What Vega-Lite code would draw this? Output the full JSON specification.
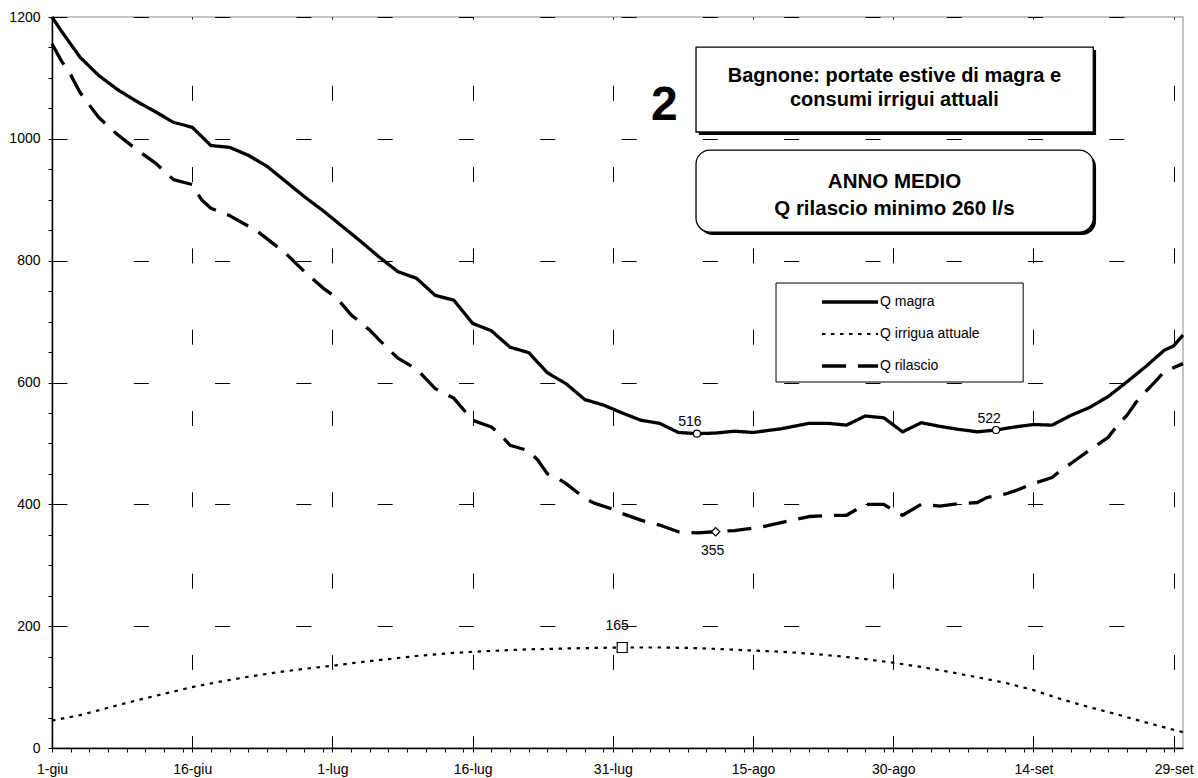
{
  "$schema": "https://vega.github.io/schema/vega-lite/v6.json",
  "width": 1131,
  "height": 731,
  "autosize": {"type": "none"},
  "padding": {"left": 52, "top": 17, "right": 15, "bottom": 30},
  "background": "white",
  "config": {
    "view": {"stroke": "#b0b0b0", "strokeWidth": 1.5},
    "font": "Liberation Sans",
    "axis": {"labelFont": "Liberation Sans", "labelFontSize": 14, "labelColor": "black", "tickColor": "black", "domainColor": "black", "title": null}
  },
  "datasets": {
    "curve": [
      {"serie": "Q magra", "day": 0, "value": 1200}, {"serie": "Q magra", "day": 1, "value": 1177}, {"serie": "Q magra", "day": 3, "value": 1134}, {"serie": "Q magra", "day": 5, "value": 1104}, {"serie": "Q magra", "day": 7, "value": 1081}, {"serie": "Q magra", "day": 9, "value": 1062}, {"serie": "Q magra", "day": 11, "value": 1045}, {"serie": "Q magra", "day": 13, "value": 1027}, {"serie": "Q magra", "day": 15, "value": 1019}, {"serie": "Q magra", "day": 17, "value": 989}, {"serie": "Q magra", "day": 19, "value": 986}, {"serie": "Q magra", "day": 21, "value": 973}, {"serie": "Q magra", "day": 23, "value": 955}, {"serie": "Q magra", "day": 25, "value": 930}, {"serie": "Q magra", "day": 27, "value": 905}, {"serie": "Q magra", "day": 29, "value": 882}, {"serie": "Q magra", "day": 31, "value": 857}, {"serie": "Q magra", "day": 33, "value": 832}, {"serie": "Q magra", "day": 35, "value": 806}, {"serie": "Q magra", "day": 37, "value": 782}, {"serie": "Q magra", "day": 39, "value": 771}, {"serie": "Q magra", "day": 41, "value": 743}, {"serie": "Q magra", "day": 43, "value": 735}, {"serie": "Q magra", "day": 45, "value": 697}, {"serie": "Q magra", "day": 47, "value": 685}, {"serie": "Q magra", "day": 49, "value": 658}, {"serie": "Q magra", "day": 51, "value": 649}, {"serie": "Q magra", "day": 53, "value": 616}, {"serie": "Q magra", "day": 55, "value": 598}, {"serie": "Q magra", "day": 57, "value": 572}, {"serie": "Q magra", "day": 59, "value": 563}, {"serie": "Q magra", "day": 61, "value": 550}, {"serie": "Q magra", "day": 63, "value": 538}, {"serie": "Q magra", "day": 65, "value": 533}, {"serie": "Q magra", "day": 67, "value": 518}, {"serie": "Q magra", "day": 69, "value": 516}, {"serie": "Q magra", "day": 71, "value": 517}, {"serie": "Q magra", "day": 73, "value": 520}, {"serie": "Q magra", "day": 75, "value": 518}, {"serie": "Q magra", "day": 78, "value": 524}, {"serie": "Q magra", "day": 81, "value": 533}, {"serie": "Q magra", "day": 83, "value": 533}, {"serie": "Q magra", "day": 85, "value": 530}, {"serie": "Q magra", "day": 87, "value": 545}, {"serie": "Q magra", "day": 89, "value": 542}, {"serie": "Q magra", "day": 91, "value": 519}, {"serie": "Q magra", "day": 93, "value": 534}, {"serie": "Q magra", "day": 95, "value": 528}, {"serie": "Q magra", "day": 97, "value": 523}, {"serie": "Q magra", "day": 99, "value": 519}, {"serie": "Q magra", "day": 101, "value": 522}, {"serie": "Q magra", "day": 103, "value": 527}, {"serie": "Q magra", "day": 105, "value": 531}, {"serie": "Q magra", "day": 107, "value": 530}, {"serie": "Q magra", "day": 109, "value": 546}, {"serie": "Q magra", "day": 111, "value": 559}, {"serie": "Q magra", "day": 113, "value": 577}, {"serie": "Q magra", "day": 115, "value": 601}, {"serie": "Q magra", "day": 117, "value": 626}, {"serie": "Q magra", "day": 119, "value": 653}, {"serie": "Q magra", "day": 120, "value": 660}, {"serie": "Q magra", "day": 121, "value": 678},
      {"serie": "Q irrigua attuale", "day": 0, "value": 45}, {"serie": "Q irrigua attuale", "day": 3, "value": 54}, {"serie": "Q irrigua attuale", "day": 6, "value": 66}, {"serie": "Q irrigua attuale", "day": 9, "value": 78}, {"serie": "Q irrigua attuale", "day": 12, "value": 89}, {"serie": "Q irrigua attuale", "day": 15, "value": 100}, {"serie": "Q irrigua attuale", "day": 18, "value": 109}, {"serie": "Q irrigua attuale", "day": 21, "value": 117}, {"serie": "Q irrigua attuale", "day": 24, "value": 124}, {"serie": "Q irrigua attuale", "day": 27, "value": 130}, {"serie": "Q irrigua attuale", "day": 30, "value": 135}, {"serie": "Q irrigua attuale", "day": 33, "value": 141}, {"serie": "Q irrigua attuale", "day": 36, "value": 146}, {"serie": "Q irrigua attuale", "day": 39, "value": 151}, {"serie": "Q irrigua attuale", "day": 42, "value": 155}, {"serie": "Q irrigua attuale", "day": 45, "value": 158}, {"serie": "Q irrigua attuale", "day": 48, "value": 160}, {"serie": "Q irrigua attuale", "day": 51, "value": 162}, {"serie": "Q irrigua attuale", "day": 54, "value": 163}, {"serie": "Q irrigua attuale", "day": 57, "value": 164}, {"serie": "Q irrigua attuale", "day": 61, "value": 165}, {"serie": "Q irrigua attuale", "day": 65, "value": 165}, {"serie": "Q irrigua attuale", "day": 69, "value": 164}, {"serie": "Q irrigua attuale", "day": 72, "value": 162}, {"serie": "Q irrigua attuale", "day": 75, "value": 160}, {"serie": "Q irrigua attuale", "day": 78, "value": 158}, {"serie": "Q irrigua attuale", "day": 81, "value": 155}, {"serie": "Q irrigua attuale", "day": 84, "value": 151}, {"serie": "Q irrigua attuale", "day": 87, "value": 146}, {"serie": "Q irrigua attuale", "day": 90, "value": 140}, {"serie": "Q irrigua attuale", "day": 93, "value": 133}, {"serie": "Q irrigua attuale", "day": 96, "value": 125}, {"serie": "Q irrigua attuale", "day": 99, "value": 116}, {"serie": "Q irrigua attuale", "day": 102, "value": 107}, {"serie": "Q irrigua attuale", "day": 105, "value": 95}, {"serie": "Q irrigua attuale", "day": 108, "value": 80}, {"serie": "Q irrigua attuale", "day": 111, "value": 67}, {"serie": "Q irrigua attuale", "day": 114, "value": 55}, {"serie": "Q irrigua attuale", "day": 117, "value": 42}, {"serie": "Q irrigua attuale", "day": 120, "value": 30}, {"serie": "Q irrigua attuale", "day": 121, "value": 26},
      {"serie": "Q rilascio", "day": 0, "value": 1156}, {"serie": "Q rilascio", "day": 1, "value": 1128}, {"serie": "Q rilascio", "day": 2, "value": 1105}, {"serie": "Q rilascio", "day": 3, "value": 1076}, {"serie": "Q rilascio", "day": 5, "value": 1035}, {"serie": "Q rilascio", "day": 7, "value": 1007}, {"serie": "Q rilascio", "day": 9, "value": 983}, {"serie": "Q rilascio", "day": 11, "value": 961}, {"serie": "Q rilascio", "day": 13, "value": 933}, {"serie": "Q rilascio", "day": 15, "value": 925}, {"serie": "Q rilascio", "day": 16, "value": 900}, {"serie": "Q rilascio", "day": 17, "value": 886}, {"serie": "Q rilascio", "day": 19, "value": 874}, {"serie": "Q rilascio", "day": 22, "value": 848}, {"serie": "Q rilascio", "day": 25, "value": 812}, {"serie": "Q rilascio", "day": 27, "value": 782}, {"serie": "Q rilascio", "day": 29, "value": 755}, {"serie": "Q rilascio", "day": 30, "value": 744}, {"serie": "Q rilascio", "day": 31, "value": 729}, {"serie": "Q rilascio", "day": 32, "value": 711}, {"serie": "Q rilascio", "day": 34, "value": 686}, {"serie": "Q rilascio", "day": 35, "value": 670}, {"serie": "Q rilascio", "day": 37, "value": 640}, {"serie": "Q rilascio", "day": 39, "value": 622}, {"serie": "Q rilascio", "day": 41, "value": 590}, {"serie": "Q rilascio", "day": 42, "value": 582}, {"serie": "Q rilascio", "day": 43, "value": 574}, {"serie": "Q rilascio", "day": 45, "value": 538}, {"serie": "Q rilascio", "day": 47, "value": 527}, {"serie": "Q rilascio", "day": 48, "value": 514}, {"serie": "Q rilascio", "day": 49, "value": 497}, {"serie": "Q rilascio", "day": 51, "value": 488}, {"serie": "Q rilascio", "day": 52, "value": 472}, {"serie": "Q rilascio", "day": 53, "value": 450}, {"serie": "Q rilascio", "day": 54, "value": 444}, {"serie": "Q rilascio", "day": 55, "value": 434}, {"serie": "Q rilascio", "day": 57, "value": 410}, {"serie": "Q rilascio", "day": 58, "value": 402}, {"serie": "Q rilascio", "day": 60, "value": 392}, {"serie": "Q rilascio", "day": 61, "value": 385}, {"serie": "Q rilascio", "day": 63, "value": 374}, {"serie": "Q rilascio", "day": 65, "value": 366}, {"serie": "Q rilascio", "day": 67, "value": 355}, {"serie": "Q rilascio", "day": 69, "value": 353}, {"serie": "Q rilascio", "day": 71, "value": 355}, {"serie": "Q rilascio", "day": 73, "value": 357}, {"serie": "Q rilascio", "day": 76, "value": 363}, {"serie": "Q rilascio", "day": 78, "value": 370}, {"serie": "Q rilascio", "day": 81, "value": 380}, {"serie": "Q rilascio", "day": 84, "value": 382}, {"serie": "Q rilascio", "day": 85, "value": 382}, {"serie": "Q rilascio", "day": 87, "value": 400}, {"serie": "Q rilascio", "day": 89, "value": 400}, {"serie": "Q rilascio", "day": 90, "value": 390}, {"serie": "Q rilascio", "day": 91, "value": 382}, {"serie": "Q rilascio", "day": 93, "value": 400}, {"serie": "Q rilascio", "day": 95, "value": 397}, {"serie": "Q rilascio", "day": 97, "value": 401}, {"serie": "Q rilascio", "day": 99, "value": 403}, {"serie": "Q rilascio", "day": 100, "value": 411}, {"serie": "Q rilascio", "day": 102, "value": 417}, {"serie": "Q rilascio", "day": 103, "value": 422}, {"serie": "Q rilascio", "day": 105, "value": 434}, {"serie": "Q rilascio", "day": 107, "value": 444}, {"serie": "Q rilascio", "day": 108, "value": 457}, {"serie": "Q rilascio", "day": 109, "value": 467}, {"serie": "Q rilascio", "day": 111, "value": 489}, {"serie": "Q rilascio", "day": 113, "value": 510}, {"serie": "Q rilascio", "day": 114, "value": 530}, {"serie": "Q rilascio", "day": 115, "value": 546}, {"serie": "Q rilascio", "day": 116, "value": 568}, {"serie": "Q rilascio", "day": 117, "value": 585}, {"serie": "Q rilascio", "day": 118, "value": 601}, {"serie": "Q rilascio", "day": 119, "value": 618}, {"serie": "Q rilascio", "day": 121, "value": 631}
    ],
    "markers": [
      {"serie": "Q magra", "day": 69, "value": 516},
      {"serie": "Q magra", "day": 101, "value": 522},
      {"serie": "Q rilascio", "day": 71, "value": 355},
      {"serie": "Q irrigua attuale", "day": 61, "value": 165}
    ]
  },
  "resolve": {"axis": {"x": "independent", "y": "independent"}},
  "layer": [
    {
      "data": {"values": [{"box": "titolo"}]},
      "mark": {"type": "rect", "fill": "black"},
      "encoding": {
        "x": {"datum": 69.2, "type": "quantitative", "scale": {"domain": [0, 121], "nice": false, "zero": false}, "axis": null},
        "x2": {"datum": 111.7},
        "y": {"datum": 1145.8, "type": "quantitative", "scale": {"domain": [0, 1200], "nice": false, "zero": false}, "axis": null},
        "y2": {"datum": 1006.3}
      }
    },
    {
      "data": {"values": [{"box": "titolo"}]},
      "mark": {"type": "rect", "fill": "white", "stroke": "black", "strokeWidth": 1.3},
      "encoding": {
        "x": {"datum": 68.9, "type": "quantitative", "scale": {"domain": [0, 121], "nice": false, "zero": false}, "axis": null},
        "x2": {"datum": 111.4},
        "y": {"datum": 1150.7, "type": "quantitative", "scale": {"domain": [0, 1200], "nice": false, "zero": false}, "axis": null},
        "y2": {"datum": 1011.2}
      }
    },
    {
      "data": {"values": [{"box": "anno"}]},
      "mark": {"type": "rect", "fill": "black", "cornerRadius": 14},
      "encoding": {
        "x": {"datum": 69.2, "type": "quantitative", "scale": {"domain": [0, 121], "nice": false, "zero": false}, "axis": null},
        "x2": {"datum": 111.7},
        "y": {"datum": 976.7, "type": "quantitative", "scale": {"domain": [0, 1200], "nice": false, "zero": false}, "axis": null},
        "y2": {"datum": 842.1}
      }
    },
    {
      "data": {"values": [{"box": "anno"}]},
      "mark": {"type": "rect", "fill": "white", "stroke": "black", "strokeWidth": 1.3, "cornerRadius": 14},
      "encoding": {
        "x": {"datum": 68.9, "type": "quantitative", "scale": {"domain": [0, 121], "nice": false, "zero": false}, "axis": null},
        "x2": {"datum": 111.4},
        "y": {"datum": 981.6, "type": "quantitative", "scale": {"domain": [0, 1200], "nice": false, "zero": false}, "axis": null},
        "y2": {"datum": 847}
      }
    },
    {
      "data": {"values": [{"box": "legenda"}]},
      "mark": {"type": "rect", "fill": "white", "stroke": "black", "strokeWidth": 1},
      "encoding": {
        "x": {"datum": 77.46, "type": "quantitative", "scale": {"domain": [0, 121], "nice": false, "zero": false},
          "axis": {"orient": "bottom", "values": [2, 4, 6, 8, 10, 12, 14, 17, 19, 21, 23, 25, 27, 29, 32, 34, 36, 38, 40, 42, 44, 47, 49, 51, 53, 55, 57, 59, 62, 64, 66, 68, 70, 72, 74, 77, 79, 81, 83, 85, 87, 89, 92, 94, 96, 98, 100, 102, 104, 107, 109, 111, 113, 115, 117, 119], "labels": false, "domain": false, "grid": false, "ticks": true, "tickSize": 4, "tickColor": "black", "tickWidth": 1, "title": null}},
        "x2": {"datum": 103.9},
        "y": {"datum": 763.3, "type": "quantitative", "scale": {"domain": [0, 1200], "nice": false, "zero": false},
          "axis": {"orient": "left", "values": [50, 100, 150, 250, 300, 350, 450, 500, 550, 650, 700, 750, 850, 900, 950, 1050, 1100, 1150], "labels": false, "domain": false, "grid": false, "ticks": true, "tickSize": 4, "tickColor": "black", "tickWidth": 1, "title": null}},
        "y2": {"datum": 600.8}
      }
    },
    {
      "data": {"name": "curve"},
      "mark": {"type": "line", "color": "black", "strokeCap": "butt", "strokeJoin": "round"},
      "encoding": {
        "x": {"field": "day", "type": "quantitative", "scale": {"domain": [0, 121], "nice": false, "zero": false},
          "axis": {"orient": "bottom", "values": [0, 15, 30, 45, 60, 75, 90, 105, 120], "labelExpr": "['1-giu','16-giu','1-lug','16-lug','31-lug','15-ago','30-ago','14-set','29-set'][round(datum.value/15)]", "title": null, "grid": true, "gridColor": "black", "gridDash": [15, 66.3], "gridDashOffset": 13, "gridWidth": 1, "tickSize": 4, "tickWidth": 1, "domainWidth": 1.5, "labelPadding": 10.5, "labelFlush": false, "labelOverlap": false, "zindex": 0}},
        "y": {"field": "value", "type": "quantitative", "scale": {"domain": [0, 1200], "nice": false, "zero": false},
          "axis": {"orient": "left", "values": [0, 200, 400, 600, 800, 1000, 1200], "format": "d", "title": null, "grid": true, "gridColor": "black", "gridDash": [15, 66.3], "gridDashOffset": 0, "gridWidth": 1, "tickSize": 4, "tickWidth": 1, "domainWidth": 1.5, "labelPadding": 8, "labelFlush": false, "labelOverlap": false, "zindex": 0}},
        "strokeDash": {"field": "serie", "type": "nominal",
          "scale": {"domain": ["Q magra", "Q irrigua attuale", "Q rilascio"], "range": [[1, 0], [3.5, 5.5], [24, 12]]},
          "legend": {"orient": "none", "legendX": 768, "legendY": 278, "title": null, "symbolType": "stroke", "symbolSize": 3136, "symbolStrokeColor": "black", "clipHeight": 14, "rowPadding": 18, "labelFontSize": 14, "labelFont": "Liberation Sans", "labelColor": "black", "labelOffset": 0, "padding": 0,
            "encode": {"symbols": {"update": {"strokeWidth": {"signal": "(datum.value === 'Q irrigua attuale' ? 2.2 : 3.3)"}}}}}},
        "strokeWidth": {"condition": {"test": "datum.serie === 'Q irrigua attuale'", "value": 2.2}, "value": 3.3},
        "order": {"field": "day", "type": "quantitative"}
      }
    },
    {
      "data": {"name": "markers"},
      "transform": [{"filter": "datum.serie === 'Q magra'"}],
      "mark": {"type": "point", "shape": "circle", "size": 49, "filled": true, "fill": "white", "stroke": "black", "strokeWidth": 1.2, "opacity": 1},
      "encoding": {
        "x": {"field": "day", "type": "quantitative", "scale": {"domain": [0, 121], "nice": false, "zero": false},
          "axis": {"orient": "bottom", "values": [15, 30, 45, 60, 75, 90, 105, 120], "labels": false, "domain": false, "grid": false, "tickSize": -5, "tickColor": "black", "tickWidth": 1, "title": null}},
        "y": {"field": "value", "type": "quantitative", "scale": {"domain": [0, 1200], "nice": false, "zero": false},
          "axis": {"orient": "left", "values": [200, 400, 600, 800, 1000, 1200], "labels": false, "domain": false, "grid": false, "tickSize": -4, "tickColor": "black", "tickWidth": 1, "title": null}}
      }
    },
    {
      "data": {"name": "markers"},
      "transform": [{"filter": "datum.serie === 'Q rilascio'"}],
      "mark": {"type": "point", "shape": "diamond", "size": 72, "filled": true, "fill": "white", "stroke": "black", "strokeWidth": 1.2, "opacity": 1},
      "encoding": {
        "x": {"field": "day", "type": "quantitative", "scale": {"domain": [0, 121], "nice": false, "zero": false}, "axis": null},
        "y": {"field": "value", "type": "quantitative", "scale": {"domain": [0, 1200], "nice": false, "zero": false}, "axis": null}
      }
    },
    {
      "data": {"name": "markers"},
      "transform": [{"filter": "datum.serie === 'Q irrigua attuale'"}],
      "mark": {"type": "point", "shape": "square", "size": 100, "filled": true, "fill": "white", "stroke": "black", "strokeWidth": 1.2, "opacity": 1},
      "encoding": {
        "x": {"field": "day", "type": "quantitative", "scale": {"domain": [0, 121], "nice": false, "zero": false}, "axis": null},
        "y": {"field": "value", "type": "quantitative", "scale": {"domain": [0, 1200], "nice": false, "zero": false}, "axis": null}
      }
    },
    {
      "data": {"name": "markers"},
      "transform": [{"filter": "datum.serie === 'Q magra'"}],
      "mark": {"type": "text", "font": "Liberation Sans", "fontSize": 14, "color": "black", "align": "center", "baseline": "alphabetic", "dx": -7, "dy": -7.5},
      "encoding": {
        "x": {"field": "day", "type": "quantitative", "scale": {"domain": [0, 121], "nice": false, "zero": false}, "axis": null},
        "y": {"field": "value", "type": "quantitative", "scale": {"domain": [0, 1200], "nice": false, "zero": false}, "axis": null},
        "text": {"field": "value", "type": "quantitative", "format": "d"}
      }
    },
    {
      "data": {"name": "markers"},
      "transform": [{"filter": "datum.serie === 'Q rilascio'"}],
      "mark": {"type": "text", "font": "Liberation Sans", "fontSize": 14, "color": "black", "align": "center", "baseline": "alphabetic", "dx": -3, "dy": 23.5},
      "encoding": {
        "x": {"field": "day", "type": "quantitative", "scale": {"domain": [0, 121], "nice": false, "zero": false}, "axis": null},
        "y": {"field": "value", "type": "quantitative", "scale": {"domain": [0, 1200], "nice": false, "zero": false}, "axis": null},
        "text": {"field": "value", "type": "quantitative", "format": "d"}
      }
    },
    {
      "data": {"name": "markers"},
      "transform": [{"filter": "datum.serie === 'Q irrigua attuale'"}],
      "mark": {"type": "text", "font": "Liberation Sans", "fontSize": 14, "color": "black", "align": "center", "baseline": "alphabetic", "dx": -5, "dy": -17.5},
      "encoding": {
        "x": {"field": "day", "type": "quantitative", "scale": {"domain": [0, 121], "nice": false, "zero": false}, "axis": null},
        "y": {"field": "value", "type": "quantitative", "scale": {"domain": [0, 1200], "nice": false, "zero": false}, "axis": null},
        "text": {"field": "value", "type": "quantitative", "format": "d"}
      }
    },
    {
      "data": {"values": [{"testo": "2"}]},
      "mark": {"type": "text", "font": "Liberation Sans", "fontWeight": "bold", "fontSize": 48, "color": "black", "align": "center", "baseline": "alphabetic"},
      "encoding": {
        "x": {"datum": 65.5, "type": "quantitative", "scale": {"domain": [0, 121], "nice": false, "zero": false}, "axis": null},
        "y": {"datum": 1030.9, "type": "quantitative", "scale": {"domain": [0, 1200], "nice": false, "zero": false}, "axis": null},
        "text": {"field": "testo"}
      }
    },
    {
      "data": {"values": [{"testo": "Bagnone: portate estive di magra e"}]},
      "mark": {"type": "text", "font": "Liberation Sans", "fontWeight": "bold", "fontSize": 20, "color": "black", "align": "center", "baseline": "alphabetic"},
      "encoding": {
        "x": {"datum": 90.13, "type": "quantitative", "scale": {"domain": [0, 121], "nice": false, "zero": false}, "axis": null},
        "y": {"datum": 1093.7, "type": "quantitative", "scale": {"domain": [0, 1200], "nice": false, "zero": false}, "axis": null},
        "text": {"field": "testo"}
      }
    },
    {
      "data": {"values": [{"testo": "consumi irrigui attuali"}]},
      "mark": {"type": "text", "font": "Liberation Sans", "fontWeight": "bold", "fontSize": 20, "color": "black", "align": "center", "baseline": "alphabetic"},
      "encoding": {
        "x": {"datum": 90.13, "type": "quantitative", "scale": {"domain": [0, 121], "nice": false, "zero": false}, "axis": null},
        "y": {"datum": 1053.8, "type": "quantitative", "scale": {"domain": [0, 1200], "nice": false, "zero": false}, "axis": null},
        "text": {"field": "testo"}
      }
    },
    {
      "data": {"values": [{"testo": "ANNO MEDIO"}]},
      "mark": {"type": "text", "font": "Liberation Sans", "fontWeight": "bold", "fontSize": 20.5, "color": "black", "align": "center", "baseline": "alphabetic"},
      "encoding": {
        "x": {"datum": 90.13, "type": "quantitative", "scale": {"domain": [0, 121], "nice": false, "zero": false}, "axis": null},
        "y": {"datum": 918.8, "type": "quantitative", "scale": {"domain": [0, 1200], "nice": false, "zero": false}, "axis": null},
        "text": {"field": "testo"}
      }
    },
    {
      "data": {"values": [{"testo": "Q rilascio minimo 260 l/s"}]},
      "mark": {"type": "text", "font": "Liberation Sans", "fontWeight": "bold", "fontSize": 20.5, "color": "black", "align": "center", "baseline": "alphabetic"},
      "encoding": {
        "x": {"datum": 90.13, "type": "quantitative", "scale": {"domain": [0, 121], "nice": false, "zero": false}, "axis": null},
        "y": {"datum": 874.9, "type": "quantitative", "scale": {"domain": [0, 1200], "nice": false, "zero": false}, "axis": null},
        "text": {"field": "testo"}
      }
    }
  ]
}
